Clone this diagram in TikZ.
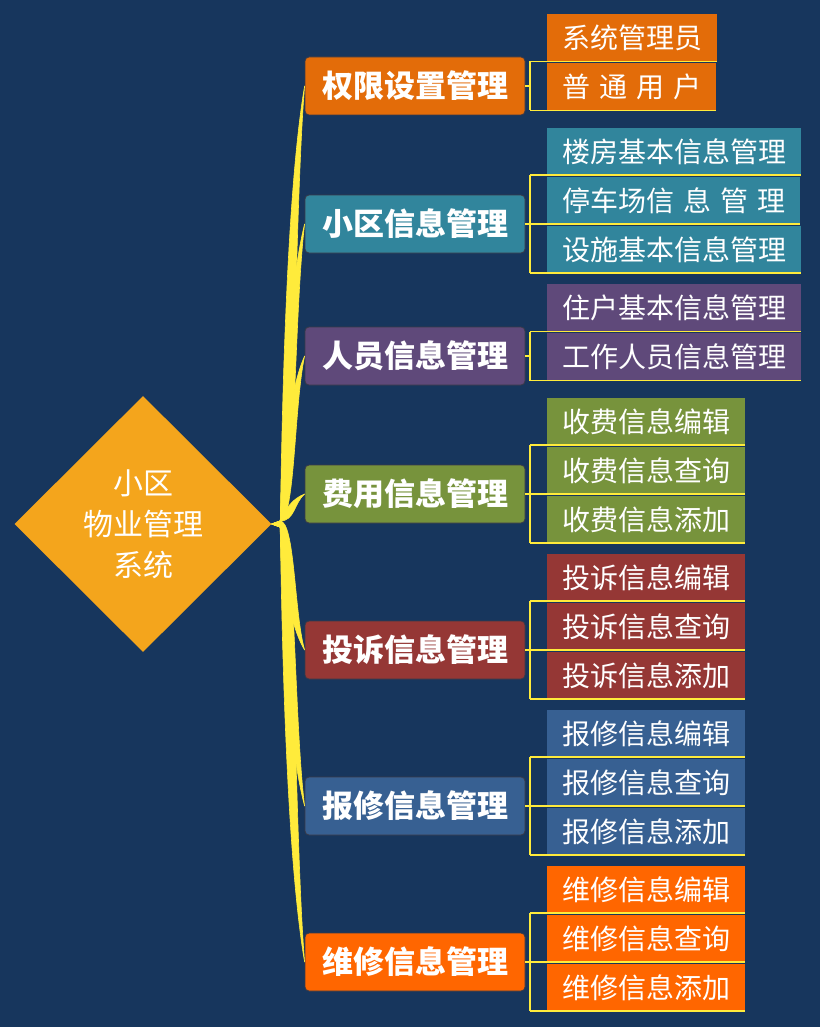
\documentclass[tikz,border=0pt]{standalone}
\usepackage{fontspec}
\setmainfont{Noto Sans CJK SC}
\usetikzlibrary{shapes.geometric}
\definecolor{navybg}{HTML}{17365D}
\definecolor{rootorange}{HTML}{F4A51C}
\definecolor{linkyellow}{HTML}{FFEB3B}
\definecolor{edgegrey}{HTML}{3A3A48}
\definecolor{cOrange}{HTML}{E36C09}
\definecolor{cTeal}{HTML}{31859C}
\definecolor{cPurple}{HTML}{5F497A}
\definecolor{cOlive}{HTML}{77933C}
\definecolor{cRed}{HTML}{953735}
\definecolor{cBlue}{HTML}{376092}
\definecolor{cVivid}{HTML}{FF6600}
\tikzset{
  rootbox/.style = {diamond,fill=rootorange,text=white,minimum width=257pt,minimum height=256pt,
                    inner sep=0pt,align=center,font=\fontsize{30}{41}\selectfont},
  catbox/.style  = {rounded corners=4pt,draw=edgegrey,line width=0.8pt,text=white,minimum width=220pt,
                    minimum height=58pt,inner sep=0pt,font=\fontsize{31}{36}\selectfont\bfseries},
  leafbox/.style = {text=white,minimum height=47pt,inner xsep=15pt,inner ysep=0pt,anchor=south west,
                    font={\fontsize{28}{32}\selectfont\spaceskip=9pt}},
  branch/.style  = {fill=linkyellow,draw=linkyellow,line width=0.6pt,line join=round},
  bracket/.style = {draw=linkyellow,line width=1.6pt}
}
% #1 name, #2 colour, #3 centre y, #4 number of leaves, #5 title, #6 leaves
\newcommand{\catgroup}[6]{%
  \node[catbox,fill=#2] (#1) at (415,#3) {#5};
  \pgfmathsetmacro\ym{#3+0.3*(524-#3)}
  \fill[branch] (root.east) -- (280,521) .. controls (295,521) and (294,\ym) .. (#1.west)
    .. controls (282,\ym) and (281,527) .. (280,527) -- cycle;
  \coordinate (#1b) at (530,#3);
  \draw[bracket] (#1.east) -- (#1b);
  \foreach \lf [count=\i] in {#6} {
    \pgfmathsetmacro\yb{#3+(\i-(#4+1)/2)*49}
    \node[leafbox,fill=#2] (#1-\i) at (547,\yb) {\lf};
    \draw[bracket] (#1b |- #1-\i.south) -- (#1-\i.south east);
  }
  \draw[bracket] (#1b |- #1-1.south) -- (#1b |- #1-#4.south);
}

\begin{document}
\begin{tikzpicture}[x=1pt,y=-1pt]
  \fill[navybg] (0,0) rectangle (820,1027);
  \useasboundingbox (0,0) rectangle (820,1027);
  \node[rootbox] (root) at (143,524) {小区\\物业管理\\系统};
  \catgroup{quanxian}{cOrange}{86}{2}{权限设置管理}{系统管理员,普 通 用 户}
  \catgroup{xiaoqu}{cTeal}{224}{3}{小区信息管理}{楼房基本信息管理,停车场信 息 管 理,设施基本信息管理}
  \catgroup{renyuan}{cPurple}{356}{2}{人员信息管理}{住户基本信息管理,工作人员信息管理}
  \catgroup{feiyong}{cOlive}{494}{3}{费用信息管理}{收费信息编辑,收费信息查询,收费信息添加}
  \catgroup{tousu}{cRed}{650}{3}{投诉信息管理}{投诉信息编辑,投诉信息查询,投诉信息添加}
  \catgroup{baoxiu}{cBlue}{806}{3}{报修信息管理}{报修信息编辑,报修信息查询,报修信息添加}
  \catgroup{weixiu}{cVivid}{962}{3}{维修信息管理}{维修信息编辑,维修信息查询,维修信息添加}
\end{tikzpicture}
\end{document}
